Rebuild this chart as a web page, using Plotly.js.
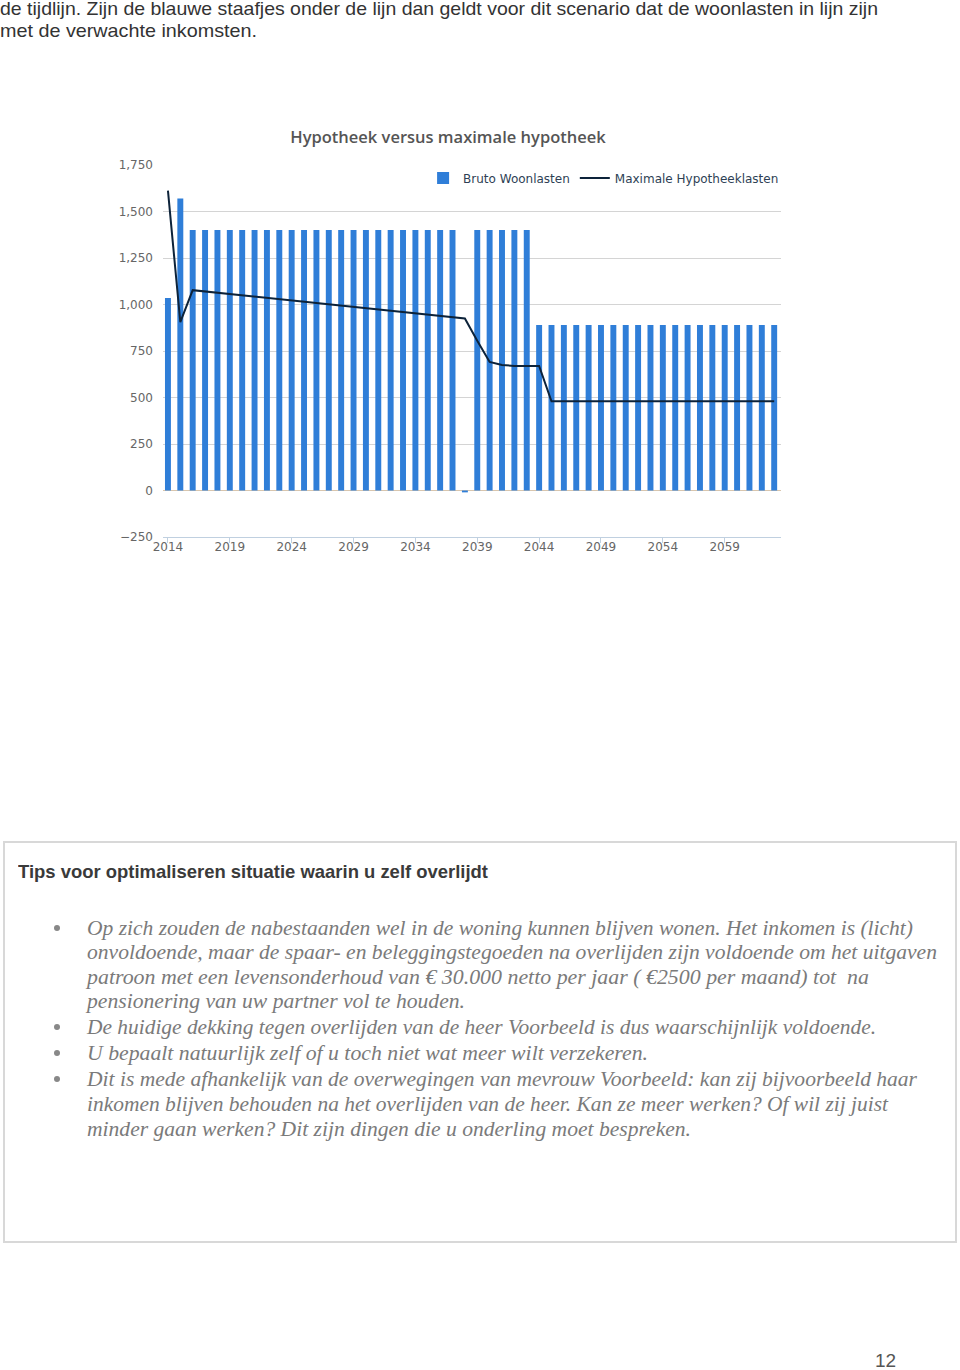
<!DOCTYPE html>
<html>
<head>
<meta charset="utf-8">
<script src="https://cdn.plot.ly/plotly-3.0.1.min.js"></script>
<style>
  html, body { margin:0; padding:0; background:#fff; }
  body { width:960px; height:1370px; position:relative; overflow:hidden; }
  .t { position:absolute; white-space:nowrap; transform-origin:0 50%; }
  .top { font-family:'Liberation Sans', Arial, sans-serif; font-size:19px; line-height:24px; color:#333; }
  .box { position:absolute; left:3px; top:841px; width:950px; height:398px; border:2px solid #d8d8d8; }
  .head { font-family:'Liberation Sans', Arial, sans-serif; font-weight:bold; font-size:19px; line-height:24px; color:#3a3a3a; }
  .it { font-family:'Liberation Serif', 'DejaVu Serif', serif; font-style:italic; font-size:21px; line-height:24px; color:#7a7a7a; }
  .dot { position:absolute; width:6px; height:6px; border-radius:3px; background:#888; }
  .pg { font-family:'Liberation Sans', Arial, sans-serif; font-size:19px; line-height:24px; color:#555; }
  #chart { position:absolute; left:0; top:100px; width:960px; height:480px; }
</style>
</head>
<body>
<div class="t top" data-w="878" style="left:0; top:-3px;">de tijdlijn. Zijn de blauwe staafjes onder de lijn dan geldt voor dit scenario dat de woonlasten in lijn zijn</div>
<div class="t top" data-w="257" style="left:0; top:19px;">met de verwachte inkomsten.</div>

<div id="chart"></div>

<div class="box"></div>
<div class="t head" data-w="470" style="left:18px; top:860px;">Tips voor optimaliseren situatie waarin u zelf overlijdt</div>

<div class="dot" style="left:54px; top:925px;"></div>
<div class="dot" style="left:54px; top:1024px;"></div>
<div class="dot" style="left:54px; top:1050px;"></div>
<div class="dot" style="left:54px; top:1076px;"></div>

<div class="t it" data-w="826" style="left:87px; top:916px;">Op zich zouden de nabestaanden wel in de woning kunnen blijven wonen. Het inkomen is (licht)</div>
<div class="t it" data-w="850" style="left:87px; top:940px;">onvoldoende, maar de spaar- en beleggingstegoeden na overlijden zijn voldoende om het uitgaven</div>
<div class="t it" data-w="782" style="left:87px; top:965px;">patroon met een levensonderhoud van € 30.000 netto per jaar ( €2500 per maand) tot&nbsp; na</div>
<div class="t it" data-w="378" style="left:87px; top:989px;">pensionering van uw partner vol te houden.</div>
<div class="t it" data-w="789" style="left:87px; top:1015px;">De huidige dekking tegen overlijden van de heer Voorbeeld is dus waarschijnlijk voldoende.</div>
<div class="t it" data-w="561" style="left:87px; top:1041px;">U bepaalt natuurlijk zelf of u toch niet wat meer wilt verzekeren.</div>
<div class="t it" data-w="830" style="left:87px; top:1067px;">Dit is mede afhankelijk van de overwegingen van mevrouw Voorbeeld: kan zij bijvoorbeeld haar</div>
<div class="t it" data-w="801" style="left:87px; top:1092px;">inkomen blijven behouden na het overlijden van de heer. Kan ze meer werken? Of wil zij juist</div>
<div class="t it" data-w="604" style="left:87px; top:1117px;">minder gaan werken? Dit zijn dingen die u onderling moet bespreken.</div>

<div class="t pg" style="left:875px; top:1349px;">12</div>

<script>
// ---- data ----
const years = [2014, 2015, 2016, 2017, 2018, 2019, 2020, 2021, 2022, 2023,
               2024, 2025, 2026, 2027, 2028, 2029, 2030, 2031, 2032, 2033,
               2034, 2035, 2036, 2037, 2038, 2039, 2040, 2041, 2042, 2043,
               2044, 2045, 2046, 2047, 2048, 2049, 2050, 2051, 2052, 2053,
               2054, 2055, 2056, 2057, 2058, 2059, 2060, 2061, 2062, 2063];

const brutoWoonlasten = [1035, 1570, 1400, 1400, 1400, 1400, 1400, 1400, 1400, 1400,
                         1400, 1400, 1400, 1400, 1400, 1400, 1400, 1400, 1400, 1400,
                         1400, 1400, 1400, 1400, -10, 1400, 1400, 1400, 1400, 1400,
                         890, 890, 890, 890, 890, 890, 890, 890, 890, 890,
                         890, 890, 890, 890, 890, 890, 890, 890, 890, 890];

const maxHypotheeklasten = [1612, 905, 1077, 1070, 1063, 1056, 1049, 1042, 1035, 1028,
                            1022, 1015, 1008, 1001, 994, 987, 980, 973, 966, 959,
                            952, 945, 938, 931, 925, 805, 691, 675, 670, 670,
                            670, 480, 480, 480, 480, 480, 480, 480, 480, 480,
                            480, 480, 480, 480, 480, 480, 480, 480, 480, 480];

const seriesNames = ['Bruto Woonlasten', 'Maximale Hypotheeklasten'];
const chartTitle = 'Hypotheek versus maximale hypotheek';

// ---- chart ----
const traces = [
  {
    type: 'bar', name: seriesNames[0], x: years, y: brutoWoonlasten,
    marker: { color: '#2f7ed8' }, hoverinfo: 'skip'
  },
  {
    type: 'scatter', mode: 'lines', name: seriesNames[1], x: years, y: maxHypotheeklasten,
    line: { color: '#0d233a', width: 2 }, hoverinfo: 'skip'
  }
];

const layout = {
  width: 960, height: 480,
  margin: { l: 163, r: 179, t: 65, b: 43 },
  paper_bgcolor: 'rgba(0,0,0,0)', plot_bgcolor: 'rgba(0,0,0,0)',
  bargap: 0.52,
  showlegend: true,
  title: {
    text: chartTitle,
    font: { family: "'Open Sans', sans-serif", size: 16.5, color: '#555555', weight: 600 },
    x: 448 / 960, xanchor: 'center', y: 1 - 37 / 480, yanchor: 'middle'
  },
  legend: {
    orientation: 'h', x: 1.005, xanchor: 'right', y: 0.965, yanchor: 'middle',
    bgcolor: 'rgba(0,0,0,0)', itemwidth: 30, traceorder: 'normal',
    font: { family: "'DejaVu Sans', sans-serif", size: 12, color: '#2e3f55' }
  },
  xaxis: {
    range: [2013.6, 2063.55], tick0: 2014, dtick: 5, tickmode: 'linear',
    showgrid: false, zeroline: false,
    showline: true, linecolor: '#c0d0e0', linewidth: 1,
    ticks: 'outside', ticklen: 5, tickcolor: '#c0d0e0', ticklabelstandoff: -6,
    tickfont: { family: "'DejaVu Sans', sans-serif", size: 12, color: '#666666' }
  },
  yaxis: {
    range: [-250, 1750], tick0: -250, dtick: 250, tickmode: 'linear',
    tickformat: ',d',
    showgrid: true, gridcolor: '#d4d4d4', gridwidth: 1,
    zeroline: true, zerolinecolor: '#d9c6ae', zerolinewidth: 1,
    showline: false, ticks: '', ticklabelstandoff: 9,
    tickfont: { family: "'DejaVu Sans', sans-serif", size: 12, color: '#666666' }
  }
};

Plotly.newPlot('chart', traces, layout, { staticPlot: true, displayModeBar: false });

// fit text lines to measured widths of the original page
document.querySelectorAll('.t[data-w]').forEach(function (el) {
  const target = parseFloat(el.getAttribute('data-w'));
  const w = el.getBoundingClientRect().width;
  if (w > 0) el.style.transform = 'scaleX(' + (target / w) + ')';
});
</script>
</body>
</html>
